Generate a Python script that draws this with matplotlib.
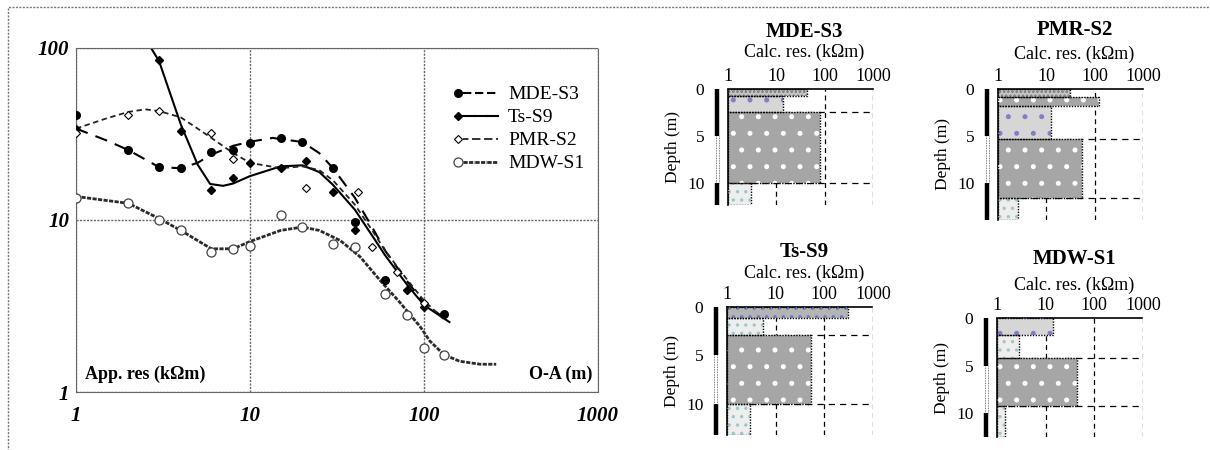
import numpy as np
import matplotlib
matplotlib.use("Agg")
import matplotlib.pyplot as plt
from matplotlib.lines import Line2D
from matplotlib.legend_handler import HandlerTuple
from matplotlib.ticker import NullLocator
from matplotlib.transforms import blended_transform_factory

plt.rcParams['font.family'] = ['Liberation Serif', 'DejaVu Serif']
plt.rcParams['hatch.linewidth'] = 1.2

W, H = 1210, 450

# --- apparent resistivity sounding curves (O-A in m, res in kOhm m) ---
mde_x = [1, 2, 3, 4, 6, 8, 10, 15, 20, 30, 40, 60, 130]
mde_y = [41, 25.5, 20.3, 20, 24.8, 25.5, 28, 30, 28.4, 20, 9.7, 4.5, 2.85]
mde_fit_x = [1, 1.5, 2, 3, 4, 5, 6, 8, 10, 13.5, 20, 25, 30, 40, 50, 60, 80, 100, 130]
mde_fit_y = [34, 29, 25.5, 20.3, 20, 21.5, 24, 27, 28.5, 30, 28.4, 24.5, 20, 13.5, 9.2, 6.6, 4.4, 3.3, 2.7]

ts_x = [1, 3, 4, 6, 8, 10, 15, 21, 30, 40, 80, 100]
ts_y = [34, 85, 33, 15, 17.5, 21.5, 20, 22, 14.5, 8.7, 3.9, 3.1]
ts_fit_x = [2.7, 3, 4, 5, 5.9, 7, 8, 10, 15, 20, 25, 30, 40, 50, 60, 80, 100, 140]
ts_fit_y = [100, 84, 36, 21, 16.2, 15.8, 16.3, 18, 20.5, 20.8, 19, 16, 11.5, 8.2, 6.2, 4.2, 3.2, 2.55]

pmr_x = [1, 2, 3, 6, 8, 21, 42, 50, 70, 100]
pmr_y = [32, 41, 43, 32, 22.5, 15.3, 14.6, 7, 5, 3.3]
pmr_fit_x = [1, 1.5, 2, 2.5, 3, 4, 5, 6, 8, 10, 15, 20, 25, 30, 40, 50, 60, 80, 100, 130]
pmr_fit_y = [34, 39, 42.5, 44, 43, 39.5, 34, 30, 24.5, 21.5, 20, 20.5, 19.5, 17, 12.3, 8.8, 6.6, 4.5, 3.4, 2.65]

mdw_x = [1, 2, 3, 4, 6, 8, 10, 15, 20, 30, 40, 60, 80, 100, 130]
mdw_y = [13.4, 12.5, 10, 8.7, 6.5, 6.8, 7.1, 10.7, 9.1, 7.3, 7.0, 3.7, 2.8, 1.81, 1.65]
mdw_fit_x = [1, 2, 3, 4, 6, 8, 10, 15, 20, 25, 33, 43, 56, 73, 95, 108, 130, 160, 210, 260]
mdw_fit_y = [13.7, 12.5, 10.2, 8.7, 6.8, 6.8, 7.5, 8.7, 9.1, 8.7, 7.6, 6.1, 4.45, 3.3, 2.4, 1.98, 1.65, 1.51, 1.45, 1.45]

# --- calculated layer models (depth in m, res in kOhm m) ---
panel_names = ['MDE-S3', 'PMR-S2', 'Ts-S9', 'MDW-S1']
layer_tops = [[0, 0.8, 2.5, 10], [0, 0.85, 1.8, 5.3, 11.7], [0, 1.1, 2.9, 10], [0, 1.8, 4.2, 9.2]]
layer_bots = [[0.8, 2.5, 10, 12.4], [0.85, 1.8, 5.3, 11.7, 14], [1.1, 2.9, 10, 13.2], [1.8, 4.2, 9.2, 12.5]]
layer_res = [[43, 13.5, 80, 3], [31, 123, 12.6, 55, 2.6], [300, 5.4, 54, 3], [14, 2.8, 45, 1.45]]
layer_fill = [['hatch', 'light', 'dark', 'pale'], ['hatch', 'dark', 'light', 'dark', 'pale'],
              ['blue', 'pale', 'dark', 'pale'], ['light', 'pale', 'dark', 'pale']]
grid_depths = [[2.5, 10], [5.3, 11.7], [2.9, 10], [4.2, 9.2]]
res_ticks = [1, 10, 100, 1000]
depth_ticks = [0, 5, 10]

fills = {
    'dark': ('#a6a6a6', 'white', '.'),
    'light': ('#d6d6d6', '#8080c8', '.'),
    'pale': ('#eeeeee', '#9cc8c8', '..'),
    'hatch': ('#c4c4c4', '#777777', '....'),
    'blue': ('#b4b4b4', '#6f7fc0', '..'),
}

fig = plt.figure(figsize=(W / 100, H / 100), dpi=100)


def box(l, t, r, b):
    return fig.add_axes([l / W, 1 - b / H, (r - l) / W, (b - t) / H])


def ftext(x, y, s, **kw):
    fig.text(x / W, 1 - y / H, s, **kw)


# outer dashed frame
frame = fig.add_axes([0, 0, 1, 1])
frame.set_xlim(0, W)
frame.set_ylim(H, 0)
frame.axis('off')
frame.plot([8, 8, W + 5], [H + 5, 7, 7], color='#777777', lw=1, ls=(0, (1.5, 1)))

# --- left: sounding curves ---
ax = box(76, 48, 598, 392)
ax.set_xscale('log')
ax.set_yscale('log')
ax.set_xlim(1, 1000)
ax.set_ylim(1, 100)
ax.xaxis.set_minor_locator(NullLocator())
ax.yaxis.set_minor_locator(NullLocator())
ax.grid(True, color='#666666', lw=1, ls=(0, (1.5, 1)))
for s in ax.spines.values():
    s.set_color('#666666')
    s.set_linestyle((0, (1.5, 1)))
ax.set_xticks(res_ticks)
ax.set_xticklabels(['1', '10', '100', '1000'])
ax.set_yticks([1, 10, 100])
ax.set_yticklabels(['1', '10', '100'])
ax.tick_params(length=0, labelsize=15)
ax.tick_params(axis='x', pad=10)
ax.tick_params(axis='y', pad=5)
for lab in ax.get_xticklabels() + ax.get_yticklabels():
    lab.set_fontstyle('italic')
    lab.set_fontweight('bold')

mde_ls = dict(color='k', lw=1.5, ls=(0, (6, 4)))
ts_ls = dict(color='k', lw=1.5)
pmr_ls = dict(color='#222222', lw=1.3, ls=(0, (3, 2)))
mdw_ls = dict(color='#2a2a2a', lw=2.0, ls=(0, (1.5, 0.5)))
mde_mk = dict(marker='o', color='k', ms=5.5, ls='none')
ts_mk = dict(marker='D', color='k', ms=3.8, ls='none')
pmr_mk = dict(marker='D', mfc='white', mec='k', mew=0.8, ms=4, ls='none')
mdw_mk = dict(marker='o', mfc='white', mec='#444444', mew=0.9, ms=6.5, ls='none')

ax.plot(mde_fit_x, mde_fit_y, **mde_ls)
ax.plot(ts_fit_x, ts_fit_y, **ts_ls)
ax.plot(pmr_fit_x, pmr_fit_y, **pmr_ls)
ax.plot(mdw_fit_x, mdw_fit_y, **mdw_ls)
ax.plot(mde_x, mde_y, zorder=5, **mde_mk)
ax.plot(ts_x, ts_y, zorder=5, **ts_mk)
ax.plot(pmr_x, pmr_y, zorder=5, **pmr_mk)
ax.plot(mdw_x, mdw_y, zorder=5, **mdw_mk)

# legend: marker on the left, line after it
handles = []
for mk, ls in [(mde_mk, dict(color='k', lw=1.5, ls=(0, (4, 3)))), (ts_mk, ts_ls), (pmr_mk, pmr_ls), (mdw_mk, mdw_ls)]:
    m = Line2D([], [], **mk)
    ln = Line2D([], [], **ls)
    handles.append((m, ln, ln, ln))
ax.legend(handles, ['MDE-S3', 'Ts-S9', 'PMR-S2', 'MDW-S1'], loc='upper left',
          bbox_to_anchor=((442 - 76) / 522, (392 - 76) / 344), frameon=False, fontsize=14,
          handler_map={tuple: HandlerTuple(ndivide=None, pad=0)},
          handlelength=2.4, handletextpad=0.5, labelspacing=0.28, borderpad=0)

ax.text(0.017, 0.05, 'App. res (k\u03a9m)', transform=ax.transAxes, fontsize=13,
        fontweight='bold', ha='left', va='center')
ax.text(0.99, 0.05, 'O-A (m)', transform=ax.transAxes, fontsize=13,
        fontweight='bold', ha='right', va='center')

# --- right: layer models ---
panel_boxes = [(728, 89, 873, 205), (998, 89, 1143, 220), (727, 307, 873, 435), (997, 318, 1143, 437)]
title_y = [32, 30, 252, 259]
calc_y = [52, 54, 273, 285]

for i, name in enumerate(panel_names):
    l, t, r, b = panel_boxes[i]
    pax = box(l, t, r, b)
    ymax = layer_bots[i][-1]
    pax.set_xscale('log')
    pax.set_xlim(1, 1000)
    pax.set_ylim(ymax, 0)
    pax.xaxis.set_minor_locator(NullLocator())
    pax.xaxis.tick_top()
    pax.set_xticks(res_ticks)
    pax.set_xticklabels(['1', '10', '100', '1000'])
    pax.set_yticks(depth_ticks)
    pax.set_yticklabels([str(d) for d in depth_ticks])
    pax.tick_params(axis='x', length=0, pad=3, labelsize=13)
    pax.tick_params(axis='y', length=0, pad=17, labelsize=12.5)
    for side in ['right', 'bottom']:
        pax.spines[side].set_visible(False)
    for side in ['top', 'left']:
        pax.spines[side].set_linestyle((0, (1, 1)))
        pax.spines[side].set_linewidth(1.2)

    for v in res_ticks[1:]:
        pax.axvline(v, color='k', lw=0.9, ls=(0, (4, 3)), zorder=1)
    for d in grid_depths[i]:
        pax.axhline(d, color='k', lw=0.9, ls=(0, (5, 4)), zorder=1)

    for top, bot, res, kind in zip(layer_tops[i], layer_bots[i], layer_res[i], layer_fill[i]):
        face, dot, hatch = fills[kind]
        pax.fill_betweenx([top, bot], 1, res, facecolor=face, edgecolor='none', zorder=2)
        pax.fill_betweenx([top, bot], 1, res, facecolor='none', edgecolor=dot, hatch=hatch,
                          linewidth=0, zorder=3)
        pax.fill_betweenx([top, bot], 1, res, facecolor='none', edgecolor='k', ls=(0, (1, 1)),
                          linewidth=1, zorder=4)

    # depth scale column
    tr = blended_transform_factory(pax.transAxes, pax.transData)
    xo = -11 / (r - l)
    dx = 1.5 / (r - l)
    pax.plot([xo, xo], [0, 5], transform=tr, color='k', lw=3.2, clip_on=False, solid_capstyle='butt')
    pax.plot([xo, xo], [10, ymax], transform=tr, color='k', lw=3.2, clip_on=False, solid_capstyle='butt')
    for sx in (xo - dx, xo + dx):
        pax.plot([sx, sx], [5, 10], transform=tr, color='#555555', lw=0.6, ls=(0, (1, 1)), clip_on=False)

    cx = (l + r) / 2 + 4
    ftext(cx, title_y[i], name, fontsize=15, fontweight='bold', ha='center', va='center')
    ftext(cx, calc_y[i], 'Calc. res. (k\u03a9m)', fontsize=13, ha='center', va='center')
    ftext(l - 55, (t + b) / 2, 'Depth (m)', fontsize=12.5, rotation=90, ha='center', va='center')

fig.savefig('out.png', dpi=100)
